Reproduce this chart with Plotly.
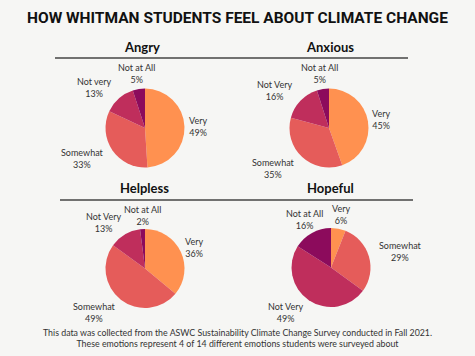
import plotly.graph_objects as go

# ---- data ----
titles = ["Angry", "Anxious", "Helpless", "Hopeful"]
angry_labels = ["Very", "Somewhat", "Not very", "Not at All"]
angry_values = [49, 33, 13, 5]
anxious_labels = ["Very", "Somewhat", "Not Very", "Not at All"]
anxious_values = [45, 35, 16, 5]
helpless_labels = ["Very", "Somewhat", "Not Very", "Not at All"]
helpless_values = [36, 49, 13, 2]
hopeful_labels = ["Very", "Somewhat", "Not Very", "Not at All"]
hopeful_values = [6, 29, 49, 16]

main_title = "HOW WHITMAN STUDENTS FEEL ABOUT CLIMATE CHANGE"
footer = ("This data was collected from the ASWC Sustainability Climate Change Survey conducted in Fall 2021.<br>"
          "These emotions represent 4 of 14 different emotions students were surveyed about")

# ---- styling / layout ----
W, H = 475, 356
colors = ["#FF9150", "#E55C5A", "#BF2E5C", "#8C0B5C"]
bg = "#F6F6F4"
R = 39.5
centers = [(145, 128), (329, 128), (145, 268.5), (331, 267.5)]
title_pos = [(142, 47), (330, 47), (144, 188), (330, 188)]
# label positions (pixel centers) per pie, in slice order
label_pos = [
    [(198, 127), (82, 158), (94, 87), (136, 74)],
    [(381, 119), (273, 168), (274, 90), (319, 74)],
    [(194, 247), (94, 312), (103, 222), (142, 215)],
    [(341, 214), (400, 252), (285, 312), (304, 220)],
]

all_labels = [angry_labels, anxious_labels, helpless_labels, hopeful_labels]
all_values = [angry_values, anxious_values, helpless_values, hopeful_values]

LABEL_FONT = "Lato, 'Open Sans', sans-serif"

fig = go.Figure()
annotations = []
for i, (labs, vals) in enumerate(zip(all_labels, all_values)):
    cx, cy = centers[i]
    fig.add_trace(go.Pie(
        labels=labs, values=vals, sort=False, direction="clockwise", rotation=0,
        marker=dict(colors=colors, line=dict(width=0)),
        textinfo="none", hoverinfo="label+percent", showlegend=False,
        domain=dict(x=[(cx - R) / W, (cx + R) / W], y=[(H - cy - R) / H, (H - cy + R) / H]),
    ))
    for (lx, ly), lab, v in zip(label_pos[i], labs, vals):
        annotations.append(dict(
            x=lx / W, y=1 - ly / H, xref="paper", yref="paper", showarrow=False,
            text=f"{lab}<br>{v}%", align="center", xanchor="center", yanchor="middle",
            font=dict(family=LABEL_FONT, size=9, color="#333333"),
        ))
    tx, ty = title_pos[i]
    annotations.append(dict(
        x=tx / W, y=1 - ty / H, xref="paper", yref="paper", showarrow=False,
        text=f"<b>{titles[i]}</b>", xanchor="center", yanchor="middle",
        font=dict(family=LABEL_FONT, size=13, color="#111111"),
    ))

annotations.append(dict(
    x=0.5, y=1 - 18 / H, xref="paper", yref="paper", showarrow=False,
    text=f"<b>{main_title}</b>", xanchor="center", yanchor="middle",
    font=dict(family="Roboto, sans-serif", size=15.5, color="#111111"),
))
annotations.append(dict(
    x=0.5, y=1 - 338 / H, xref="paper", yref="paper", showarrow=False,
    text=footer, xanchor="center", yanchor="middle", align="center",
    font=dict(family=LABEL_FONT, size=8.8, color="#333333"),
))

shapes = [
    dict(type="line", xref="paper", yref="paper", x0=55 / W, x1=408 / W, y0=1 - 58 / H, y1=1 - 58 / H,
         line=dict(color="#444444", width=1.5)),
    dict(type="line", xref="paper", yref="paper", x0=60 / W, x1=413 / W, y0=1 - 200 / H, y1=1 - 200 / H,
         line=dict(color="#444444", width=1.5)),
]

fig.update_layout(
    width=W, height=H, margin=dict(l=0, r=0, t=0, b=0),
    paper_bgcolor=bg, plot_bgcolor=bg,
    annotations=annotations, shapes=shapes,
)

fig.write_html("out.html", config={"displayModeBar": False},
               post_script="document.body.style.margin='0';document.body.style.background='" + bg + "';")
